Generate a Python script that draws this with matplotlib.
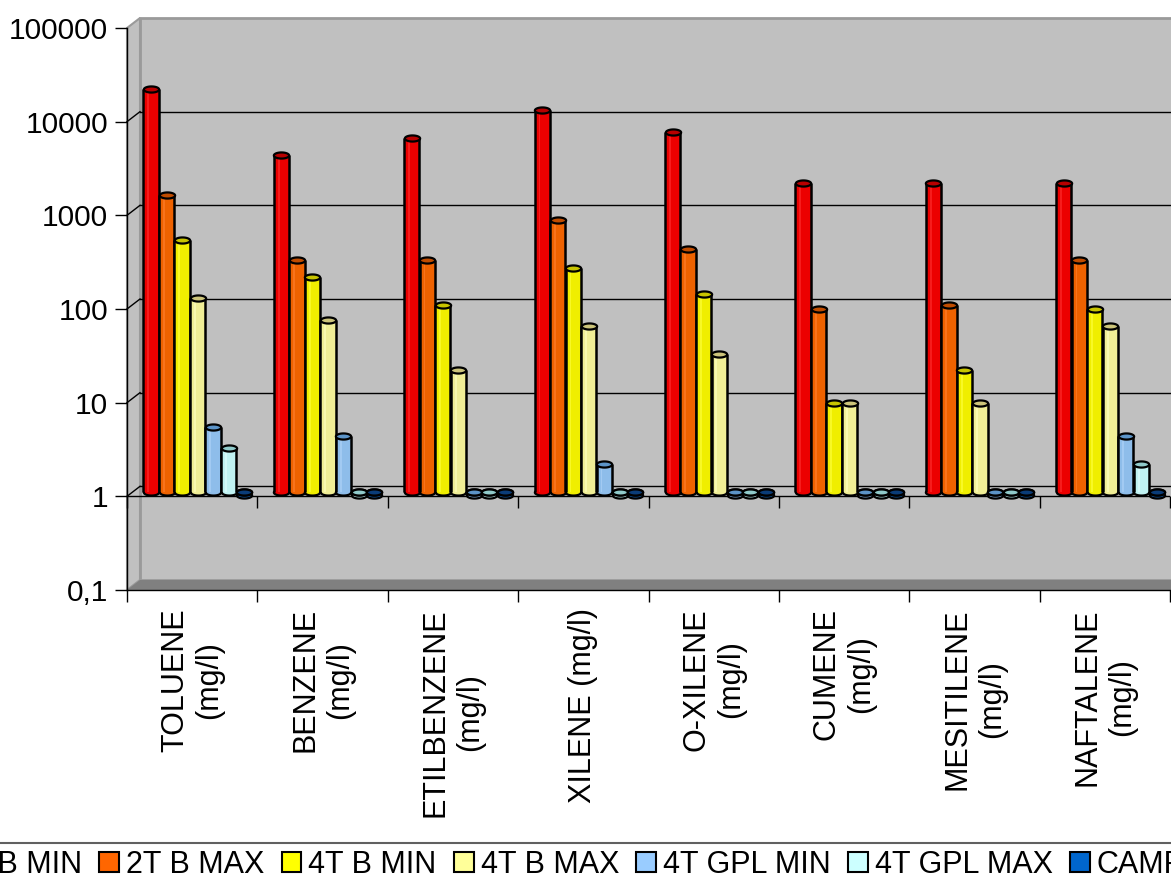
import numpy as np
import matplotlib
matplotlib.use('Agg')
import matplotlib.pyplot as plt
from matplotlib import transforms as mtransforms
from matplotlib.path import Path
from matplotlib.patches import Rectangle, Polygon, Patch
from matplotlib.lines import Line2D
from matplotlib.ticker import NullLocator
import matplotlib.markers as mmarkers

plt.rcParams['font.family'] = ['Liberation Sans', 'DejaVu Sans']

# ---------------- data ----------------
categories = ["TOLUENE\n(mg/l)", "BENZENE\n(mg/l)", "ETILBENZENE\n(mg/l)",
              "XILENE (mg/l)", "O-XILENE\n(mg/l)", "CUMENE\n(mg/l)",
              "MESITILENE\n(mg/l)", "NAFTALENE\n(mg/l)"]
series_names = ["2T B MIN", "2T B MAX", "4T B MIN", "4T B MAX",
                "4T GPL MIN", "4T GPL MAX", "CAMPIONE"]
t2_b_min = [20000, 4000, 6000, 12000, 7000, 2000, 2000, 2000]
t2_b_max = [1500, 300, 300, 800, 400, 90, 100, 300]
t4_b_min = [500, 200, 100, 250, 130, 9, 20, 90]
t4_b_max = [120, 70, 20, 60, 30, 9, 9, 60]
t4_gpl_min = [5, 4, 1, 2, 1, 1, 1, 4]
t4_gpl_max = [3, 1, 1, 1, 1, 1, 1, 2]
campione = [1, 1, 1, 1, 1, 1, 1, 1]
series_values = [t2_b_min, t2_b_max, t4_b_min, t4_b_max, t4_gpl_min, t4_gpl_max, campione]

y_ticks = [0.1, 1, 10, 100, 1000, 10000, 100000]
y_tick_labels = ["0,1", "1", "10", "100", "1000", "10000", "100000"]

legend_colors = ["#FF0000", "#FF6600", "#FFFF00", "#FFFF99", "#99CCFF", "#CCFFFF", "#0066CC"]
bar_colors = ["#EC0000", "#EE6200", "#F0EE00", "#F0EE96", "#8EBDEA", "#C0F2F2", "#1262B4"]
cap_colors = ["#B80000", "#C04C00", "#C8C400", "#CCC47A", "#5C94C8", "#90CACA", "#0A3C78"]
hi_colors = ["#FF3030", "#FF8030", "#FFFF40", "#FFFFC0", "#B0D4F8", "#E0FFFF", "#3080D0"]

# ---------------- figure ----------------
W, H = 1171, 882
fig = plt.figure(figsize=(W / 100, H / 100), dpi=100)
fig.patch.set_facecolor('white')

x0, x1 = 127, 127 + 8 * 130.4
y_top, y_bot = 28, 590
ax = fig.add_axes([x0 / W, (H - y_bot) / H, (x1 - x0) / W, (y_bot - y_top) / H])
ax.set_yscale('log')
ax.set_ylim(0.1, 1e5)
ax.set_xlim(0, 8)
ax.set_facecolor('none')

DX, DY = 13, 10
ident = mtransforms.IdentityTransform()
back = mtransforms.offset_copy(ax.transData, fig=fig, x=DX, y=DY, units='dots')
backA = mtransforms.offset_copy(ax.transAxes, fig=fig, x=DX, y=DY, units='dots')
bar_tr = mtransforms.offset_copy(ax.transData, fig=fig, x=0, y=4, units='dots')
disk_tr = mtransforms.offset_copy(ax.transData, fig=fig, x=0, y=1.5, units='dots')

wall = '#C0C0C0'
# back wall
fig.add_artist(Rectangle((0, 0), 1.1, 1, transform=backA, facecolor=wall,
                         edgecolor='#9A9A9A', lw=2, zorder=-3, clip_on=False))
# side wall
pA = ax.transAxes.transform([(0, 0), (0, 1)])
side = Polygon([pA[0], pA[1], pA[1] + (DX, DY), pA[0] + (DX, DY)], closed=True,
               transform=ident, facecolor=wall, edgecolor='#9A9A9A', lw=1.5, zorder=-2)
fig.add_artist(side)
# floor
pF = ax.transAxes.transform([(0, 0), (1.1, 0)])
floor = Polygon([pF[0], pF[1], pF[1] + (DX, DY), pF[0] + (DX, DY)], closed=True,
                transform=ident, facecolor='#808080', edgecolor='none', zorder=-1)
fig.add_artist(floor)

# back gridlines and side diagonals
for v in [1, 10, 100, 1000, 10000]:
    ax.plot([0, 8.5], [v, v], transform=back, color='black', lw=1, clip_on=False, zorder=0.5)
    p = ax.transData.transform((0, v))
    fig.add_artist(Line2D([p[0], p[0] + DX], [p[1], p[1] + DY], transform=ident,
                          color='black', lw=1, zorder=-0.5))

# front "1" axis line with ticks
ax.axhline(1, color='black', lw=1, zorder=1)
ax.plot(np.arange(9), np.ones(9), ls='none', marker=mmarkers.TICKDOWN, ms=8.5, mew=1,
        color='black', clip_on=False, zorder=1)

# ellipse marker for cylinder caps
t = np.linspace(0, 2 * np.pi, 64)
ell = Path(np.column_stack([np.cos(t), 0.4 * np.sin(t)]), closed=True)

step = 0.119
bw = 0.117
ms = bw * 130.4 * 72 / 100
for k, vals in enumerate(series_values):
    vals = np.asarray(vals, dtype=float)
    xs = np.arange(len(categories)) + 0.184 + k * step
    z = 2 + k * 0.1
    tall = vals > 1
    flat = ~tall
    # lower rim of flat disks (thickness)
    if flat.any():
        ax.plot(xs[flat], vals[flat], ls='none', marker=ell, ms=ms, mfc=bar_colors[k],
                mec='black', mew=1.6, transform=disk_tr, zorder=z - 0.01, clip_on=False)
    # base ellipse (only lower half visible under tall bars)
    ax.plot(xs, np.ones_like(vals), ls='none', marker=ell, ms=ms, mfc=bar_colors[k],
            mec='black', mew=1.6, transform=bar_tr, zorder=z, clip_on=False)
    # body
    ax.bar(xs[tall], vals[tall] - 1, bottom=1, width=bw, color=bar_colors[k], lw=0,
           transform=bar_tr, zorder=z + 0.02)
    ax.bar(xs[tall] - bw * 0.18, vals[tall] - 1, bottom=1, width=bw * 0.12,
           color=hi_colors[k], lw=0, alpha=0.6, transform=bar_tr, zorder=z + 0.03)
    ax.vlines(np.concatenate([xs[tall] - bw / 2, xs[tall] + bw / 2]), 1,
              np.concatenate([vals[tall], vals[tall]]), colors='black', lw=1.8,
              transform=bar_tr, zorder=z + 0.04)
    # top cap
    ax.plot(xs, vals, ls='none', marker=ell, ms=ms, mfc=cap_colors[k],
            mec='black', mew=1.6, transform=bar_tr, zorder=z + 0.05, clip_on=False)

# axes styling
for s in ['top', 'right']:
    ax.spines[s].set_visible(False)
for s in ['left', 'bottom']:
    ax.spines[s].set_color('black')
    ax.spines[s].set_linewidth(1)
    ax.spines[s].set_zorder(5)

ax.set_yticks(y_ticks)
ax.set_yticklabels(y_tick_labels, fontsize=21.5)
ax.yaxis.set_minor_locator(NullLocator())
ax.tick_params(axis='y', which='major', length=8.6, width=1, pad=5, color='black')

ax.set_xticks(np.arange(9))
ax.set_xticklabels([''] * 9)
ax.tick_params(axis='x', which='major', length=8.6, width=1, color='black')
ax.set_xticks(np.arange(8) + 0.5, minor=True)
ax.set_xticklabels(categories, minor=True, rotation=90, fontsize=22, multialignment='center')
ax.tick_params(axis='x', which='minor', length=0, pad=13)

ax.set_xlim(0, 8)
ax.set_ylim(0.1, 1e5)

# legend
fig.add_artist(Line2D([0, 1], [(H - 843) / H] * 2, transform=fig.transFigure,
                      color='#606060', lw=1.5))
handles = [Patch(facecolor=c, edgecolor='black', lw=1.5) for c in legend_colors]
fig.legend(handles, series_names, loc='center left',
           bbox_to_anchor=(-73 / W, (H - 865) / H), bbox_transform=fig.transFigure,
           ncol=7, frameon=False, fontsize=22, handlelength=0.65, handleheight=0.65,
           handletextpad=0.23, columnspacing=0.56, borderpad=0, borderaxespad=0)

fig.savefig('out.png', dpi=100)
